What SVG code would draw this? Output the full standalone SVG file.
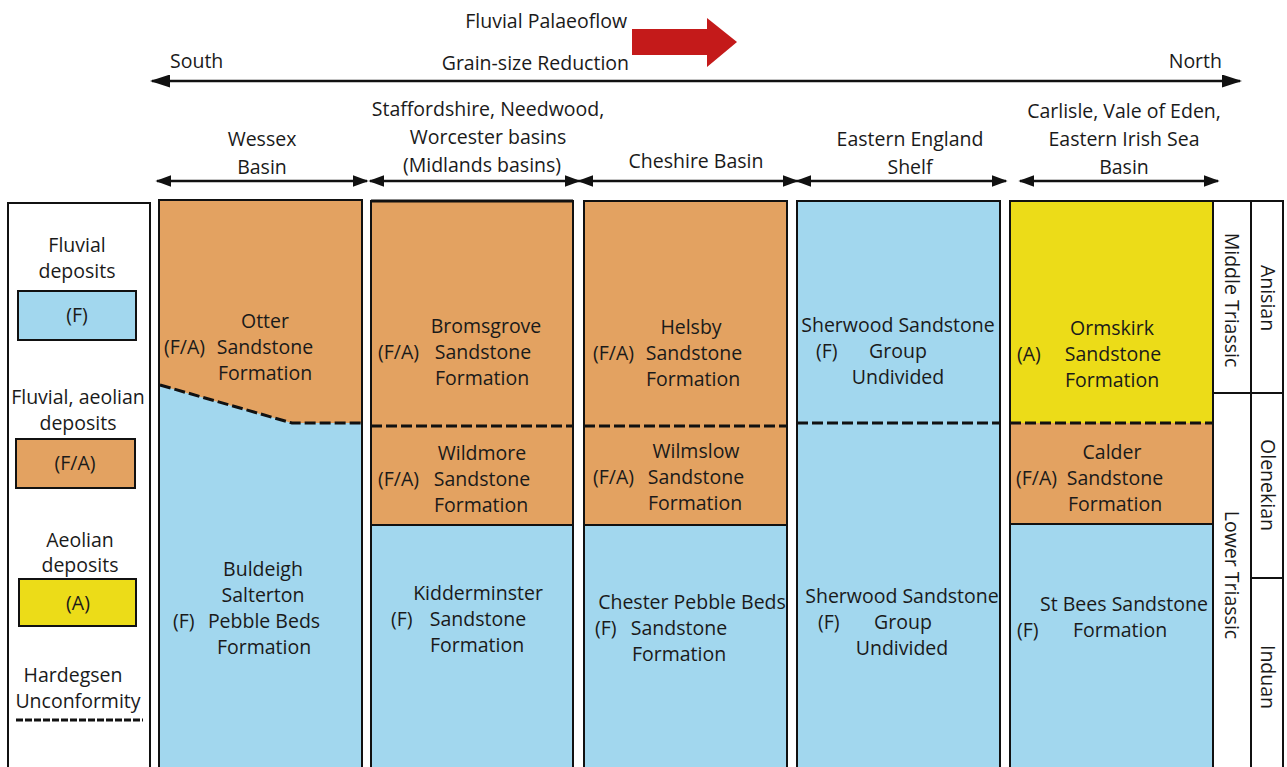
<svg xmlns="http://www.w3.org/2000/svg" width="1287" height="767" viewBox="0 0 1287 767">
<style>
text{font-family:"Open Sans","Liberation Sans",sans-serif;font-size:19.5px;fill:#1a1a1a}
.c{text-anchor:middle}
.box{stroke:#111;stroke-width:2}
.F{fill:#a2d7ee}
.FA{fill:#e3a261}
.A{fill:#ecdc18}
.W{fill:#fff}
.dash{stroke:#111;stroke-width:3;stroke-dasharray:11 4;fill:none}
.sol{stroke:#111;stroke-width:2;fill:none}
.arr{stroke:#111;stroke-width:2.5;fill:none;marker-start:url(#ah2);marker-end:url(#ah2)}
</style>
<defs>
<marker id="ah2" viewBox="0 0 10 10" refX="9" refY="5" markerWidth="16" markerHeight="12" markerUnits="userSpaceOnUse" orient="auto-start-reverse" preserveAspectRatio="none">
<path d="M0,0L10,5L0,10z" fill="#111"/>
</marker>
<marker id="ah3" viewBox="0 0 10 10" refX="9" refY="5" markerWidth="20" markerHeight="13" markerUnits="userSpaceOnUse" orient="auto-start-reverse" preserveAspectRatio="none">
<path d="M0,0L10,5L0,10z" fill="#111"/>
</marker>
</defs>
<rect width="1287" height="767" fill="#fff"/>

<g id="header">
<text x="627" y="28" text-anchor="end">Fluvial Palaeoflow</text>
<text x="629" y="70" text-anchor="end">Grain-size Reduction</text>
<path d="M632,29H707V18L737,42L707,67V55H632Z" fill="#c41a1a"/>
<text x="170" y="68">South</text>
<text x="1222" y="68" text-anchor="end">North</text>
</g>

<g id="connectors">
<line x1="152" y1="81" x2="1240" y2="81" stroke="#111" stroke-width="2.5" marker-start="url(#ah3)" marker-end="url(#ah3)"/>
<line class="arr" x1="157" y1="181" x2="367" y2="181"/>
<line class="arr" x1="370" y1="181" x2="579" y2="181"/>
<line class="arr" x1="579" y1="181" x2="797" y2="181"/>
<line class="arr" x1="797" y1="181" x2="1006" y2="181"/>
<line class="arr" x1="1020" y1="181" x2="1218" y2="181"/>
</g>

<g id="basin-labels">
<text class="c" x="262" y="146">Wessex</text>
<text class="c" x="262" y="174">Basin</text>
<text class="c" x="488" y="116">Staffordshire, Needwood,</text>
<text class="c" x="488" y="144">Worcester basins</text>
<text class="c" x="482" y="172">(Midlands basins)</text>
<text class="c" x="696" y="168">Cheshire Basin</text>
<text class="c" x="910" y="146">Eastern England</text>
<text class="c" x="910" y="174">Shelf</text>
<text class="c" x="1124" y="118">Carlisle, Vale of Eden,</text>
<text class="c" x="1124" y="146">Eastern Irish Sea</text>
<text class="c" x="1124" y="174">Basin</text>
</g>

<g id="legend">
<rect class="box W" x="8" y="203" width="142" height="580"/>
<text class="c" x="77" y="252">Fluvial</text>
<text class="c" x="77" y="278">deposits</text>
<rect class="box F" x="18" y="291" width="118" height="49"/>
<text class="c" x="77" y="322">(F)</text>
<text class="c" x="78" y="404">Fluvial, aeolian</text>
<text class="c" x="78" y="430">deposits</text>
<rect class="box FA" x="16" y="439" width="119" height="49"/>
<text class="c" x="75" y="470">(F/A)</text>
<text class="c" x="80" y="547">Aeolian</text>
<text class="c" x="80" y="572">deposits</text>
<rect class="box A" x="19" y="579" width="117" height="47"/>
<text class="c" x="78" y="610">(A)</text>
<text class="c" x="73" y="682">Hardegsen</text>
<text class="c" x="78" y="708">Unconformity</text>
<line x1="16" y1="720" x2="143" y2="720" stroke="#111" stroke-width="3" stroke-dasharray="7 2"/>
</g>

<g id="wessex">
<rect class="F" x="159" y="200" width="203" height="580"/>
<path class="FA" d="M159,200H362V423H292L159,385Z"/>
<path class="dash" d="M160,385L292,423H362"/>
<rect class="box" x="159" y="200" width="203" height="580" fill="none"/>
<text class="c" x="265" y="328">Otter</text>
<text x="164" y="354">(F/A)</text>
<text class="c" x="265" y="354">Sandstone</text>
<text class="c" x="265" y="380">Formation</text>
<text class="c" x="263" y="576">Buldeigh</text>
<text class="c" x="263" y="602">Salterton</text>
<text x="173" y="628">(F)</text>
<text class="c" x="264" y="628">Pebble Beds</text>
<text class="c" x="264" y="654">Formation</text>
</g>

<g id="midlands">
<rect class="F" x="371" y="201" width="202" height="580"/>
<rect class="FA" x="371" y="201" width="202" height="324"/>
<line class="sol" x1="371" y1="525" x2="573" y2="525"/>
<line class="dash" x1="371" y1="426" x2="573" y2="426"/>
<rect class="box" x="371" y="201" width="202" height="580" fill="none"/>
<line x1="371" y1="201" x2="573" y2="201" stroke="#111" stroke-width="3"/>
<text class="c" x="486" y="333">Bromsgrove</text>
<text x="378" y="359">(F/A)</text>
<text class="c" x="483" y="359">Sandstone</text>
<text class="c" x="482" y="385">Formation</text>
<text class="c" x="482" y="460">Wildmore</text>
<text x="378" y="486">(F/A)</text>
<text class="c" x="482" y="486">Sandstone</text>
<text class="c" x="481" y="512">Formation</text>
<text class="c" x="478" y="600">Kidderminster</text>
<text x="391" y="626">(F)</text>
<text class="c" x="478" y="626">Sandstone</text>
<text class="c" x="477" y="652">Formation</text>
</g>

<g id="cheshire">
<rect class="F" x="584" y="201" width="203" height="580"/>
<rect class="FA" x="584" y="201" width="203" height="324"/>
<line class="sol" x1="584" y1="525" x2="787" y2="525"/>
<line class="dash" x1="584" y1="426" x2="787" y2="426"/>
<rect class="box" x="584" y="201" width="203" height="580" fill="none"/>
<text class="c" x="691" y="334">Helsby</text>
<text x="593" y="360">(F/A)</text>
<text class="c" x="694" y="360">Sandstone</text>
<text class="c" x="693" y="386">Formation</text>
<text class="c" x="696" y="458">Wilmslow</text>
<text x="593" y="484">(F/A)</text>
<text class="c" x="696" y="484">Sandstone</text>
<text class="c" x="695" y="510">Formation</text>
<text class="c" x="692" y="609">Chester Pebble Beds</text>
<text x="595" y="635">(F)</text>
<text class="c" x="679" y="635">Sandstone</text>
<text class="c" x="679" y="661">Formation</text>
</g>

<g id="eastern-england">
<rect class="box F" x="797" y="201" width="203" height="580"/>
<line class="dash" x1="797" y1="423" x2="1000" y2="423"/>
<text class="c" x="898" y="332">Sherwood Sandstone</text>
<text x="816" y="358">(F)</text>
<text class="c" x="898" y="358">Group</text>
<text class="c" x="898" y="384">Undivided</text>
<text class="c" x="902" y="603">Sherwood Sandstone</text>
<text x="818" y="629">(F)</text>
<text class="c" x="903" y="629">Group</text>
<text class="c" x="902" y="655">Undivided</text>
</g>

<g id="carlisle">
<rect class="F" x="1010" y="201" width="203" height="580"/>
<rect class="FA" x="1010" y="423" width="203" height="101"/>
<rect class="A" x="1010" y="201" width="203" height="222"/>
<line class="sol" x1="1010" y1="524" x2="1213" y2="524"/>
<line class="dash" x1="1010" y1="423" x2="1213" y2="423"/>
<rect class="box" x="1010" y="201" width="203" height="580" fill="none"/>
<text class="c" x="1112" y="335">Ormskirk</text>
<text x="1017" y="361">(A)</text>
<text class="c" x="1113" y="361">Sandstone</text>
<text class="c" x="1112" y="387">Formation</text>
<text class="c" x="1112" y="459">Calder</text>
<text x="1016" y="485">(F/A)</text>
<text class="c" x="1115" y="485">Sandstone</text>
<text class="c" x="1115" y="511">Formation</text>
<text class="c" x="1124" y="611">St Bees Sandstone</text>
<text x="1017" y="637">(F)</text>
<text class="c" x="1120" y="637">Formation</text>
</g>

<g id="stratigraphy">
<rect class="box W" x="1213" y="201" width="38" height="580"/>
<rect class="box W" x="1251" y="201" width="32" height="580"/>
<line class="sol" x1="1213" y1="393" x2="1283" y2="393"/>
<line class="sol" x1="1251" y1="578" x2="1283" y2="578"/>
<text class="c" transform="translate(1225,300) rotate(90)">Middle Triassic</text>
<text class="c" transform="translate(1225,575) rotate(90)">Lower Triassic</text>
<text class="c" transform="translate(1261,298) rotate(90)">Anisian</text>
<text class="c" transform="translate(1261,485) rotate(90)">Olenekian</text>
<text class="c" transform="translate(1261,677) rotate(90)">Induan</text>
</g>
</svg>
